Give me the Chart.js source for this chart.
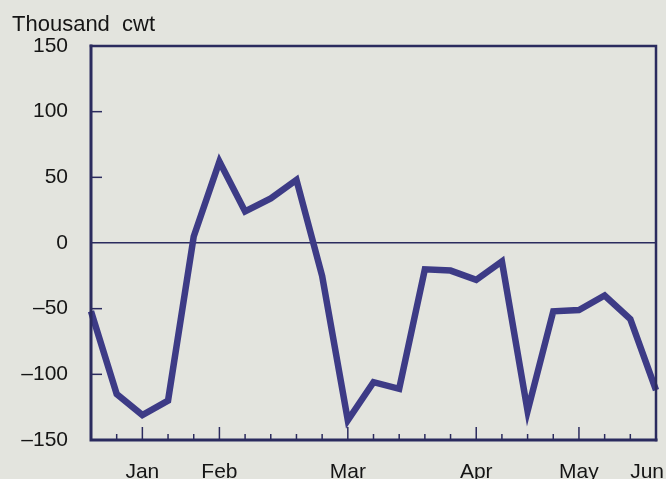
<!DOCTYPE html>
<html>
<head>
<meta charset="utf-8">
<script src="https://cdn.jsdelivr.net/npm/chart.js@4"></script>
<style>
  html, body { margin: 0; padding: 0; background: #e3e4de; }
  #wrap { width: 666px; height: 479px; }
</style>
</head>
<body>
<div id="wrap"><canvas id="cwtChart" width="666" height="479"></canvas></div>
<script>
// weekly change, thousand cwt
const weeks = [0, 1, 2, 3, 4, 5, 6, 7, 8, 9, 10, 11, 12, 13, 14, 15, 16, 17, 18, 19, 20, 21, 22];
const changeValues = [-52, -115, -131, -120, 5, 62, 24, 34, 48, -25, -135, -106, -111, -20, -21, -28, -14, -128, -52, -51, -40, -58, -112];
const monthLabels = ['Jan', 'Feb', 'Mar', 'Apr', 'May', 'Jun'];
const monthWeeks = [2, 5, 10, 15, 19, 22];
const yTicks = [-150, -100, -50, 0, 50, 100, 150];

const ink = '#2b2b5e';
const lineColor = '#3d3b86';
const font = '"Liberation Sans", Arial, Helvetica, sans-serif';

// frame, inward ticks, month labels and unit label
const framePlugin = {
  id: 'frame',
  afterDraw(chart) {
    const { ctx, chartArea: a, scales: { x, y } } = chart;
    ctx.save();
    ctx.strokeStyle = ink;
    ctx.lineCap = 'square';

    // top and right border
    ctx.lineWidth = 2.5;
    ctx.beginPath();
    ctx.moveTo(a.left, a.top);
    ctx.lineTo(a.right, a.top);
    ctx.lineTo(a.right, a.bottom);
    ctx.stroke();

    // left and bottom axis
    ctx.lineWidth = 3;
    ctx.beginPath();
    ctx.moveTo(a.left, a.top);
    ctx.lineTo(a.left, a.bottom);
    ctx.lineTo(a.right, a.bottom);
    ctx.stroke();

    // y ticks pointing inward
    ctx.lineWidth = 1.5;
    ctx.lineCap = 'butt';
    yTicks.forEach(v => {
      if (v === 150 || v === -150 || v === 0) return;
      const py = y.getPixelForValue(v);
      ctx.beginPath();
      ctx.moveTo(a.left, py);
      ctx.lineTo(a.left + 11, py);
      ctx.stroke();
    });

    // x ticks pointing upward
    weeks.forEach(w => {
      if (w === 0 || w === weeks.length - 1) return;
      const px = x.getPixelForValue(w);
      const len = monthWeeks.includes(w) ? 13 : 6;
      ctx.beginPath();
      ctx.moveTo(px, a.bottom);
      ctx.lineTo(px, a.bottom - len);
      ctx.stroke();
    });

    // month labels
    ctx.fillStyle = '#151515';
    ctx.font = '21px ' + font;
    ctx.textBaseline = 'alphabetic';
    ctx.textAlign = 'left';
    monthLabels.forEach((m, i) => {
      const px = x.getPixelForValue(monthWeeks[i]);
      const w = ctx.measureText(m).width;
      let left = px - w / 2;
      if (left + w > chart.width - 2) left = chart.width - 2 - w;
      ctx.fillText(m, left, 478);
    });

    // unit label
    ctx.font = '22px ' + font;
    ctx.fillText('Thousand  cwt', 12, 31);
    ctx.restore();
  }
};

const ctx = document.getElementById('cwtChart').getContext('2d');

new Chart(ctx, {
  type: 'line',
  data: {
    labels: weeks,
    datasets: [{
      data: weeks.map((w, i) => ({ x: w, y: changeValues[i] })),
      borderColor: lineColor,
      borderWidth: 6.5,
      borderJoinStyle: 'miter',
      pointRadius: 0,
      tension: 0,
      fill: false,
      clip: false
    }]
  },
  options: {
    responsive: false,
    animation: false,
    layout: { padding: { left: 0, top: 46, right: 10, bottom: 39 } },
    plugins: {
      legend: { display: false },
      tooltip: { enabled: false }
    },
    scales: {
      x: {
        type: 'linear',
        min: 0,
        max: 22,
        display: true,
        grid: { display: false },
        border: { display: false },
        ticks: { display: false },
        afterFit(scale) { scale.height = 0; }
      },
      y: {
        min: -150,
        max: 150,
        afterBuildTicks(scale) { scale.ticks = yTicks.map(v => ({ value: v })); },
        afterFit(scale) { scale.width = 91; },
        border: { display: false },
        grid: {
          drawTicks: false,
          color: c => (c.tick && c.tick.value === 0) ? ink : 'rgba(0,0,0,0)',
          lineWidth: 1.5
        },
        ticks: {
          padding: 23,
          color: '#151515',
          font: { family: font, size: 21 },
          callback: v => String(v).replace('-', '\u2013')
        }
      }
    }
  },
  plugins: [framePlugin]
});
</script>
</body>
</html>
